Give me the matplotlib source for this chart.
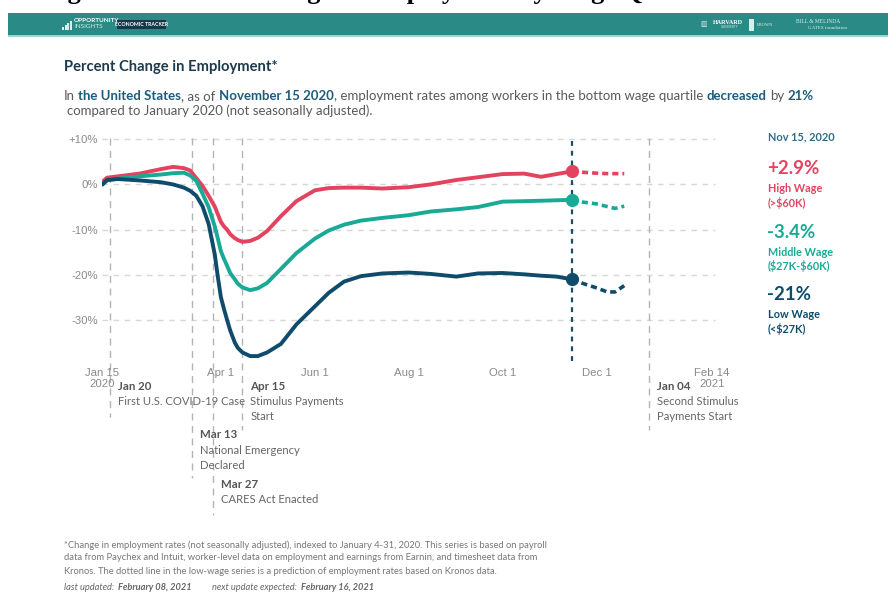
import matplotlib
matplotlib.use("Agg")
import matplotlib.pyplot as plt
import matplotlib.dates as mdates
from matplotlib.transforms import blended_transform_factory
from matplotlib.patches import Rectangle
import datetime as dt

# ---------------- data ----------------
dates = ["2020-01-15", "2020-01-18", "2020-01-25", "2020-02-08", "2020-02-22",
         "2020-03-01", "2020-03-08", "2020-03-12", "2020-03-16", "2020-03-20",
         "2020-03-24", "2020-03-28", "2020-03-30", "2020-04-01", "2020-04-03",
         "2020-04-05", "2020-04-07", "2020-04-10", "2020-04-12", "2020-04-15",
         "2020-04-20", "2020-04-25", "2020-05-01", "2020-05-10", "2020-05-20",
         "2020-06-01", "2020-06-10", "2020-06-20", "2020-07-01", "2020-07-15",
         "2020-08-01", "2020-08-15", "2020-09-01", "2020-09-15", "2020-10-01",
         "2020-10-15", "2020-10-26", "2020-11-05", "2020-11-15"]
high_wage = [0.6, 1.5, 1.8, 2.4, 3.4,
             3.9, 3.6, 3.1, 1.4, -0.3,
             -2.5, -4.9, -6.6, -8.3, -9.3,
             -10.0, -11.0, -11.9, -12.3, -12.7,
             -12.5, -11.8, -10.3, -7.0, -3.7,
             -1.3, -0.8, -0.7, -0.7, -0.9,
             -0.6, 0.0, 1.0, 1.6, 2.3,
             2.4, 1.7, 2.3, 2.9]
middle_wage = [0.0, 0.9, 1.3, 1.8, 2.2,
               2.5, 2.6, 2.0, 0.8, -2.0,
               -5.0, -9.3, -12.0, -14.8, -16.5,
               -18.0, -19.6, -21.0, -22.0, -22.8,
               -23.4, -23.0, -21.8, -18.7, -15.2,
               -12.0, -10.2, -8.9, -8.0, -7.4,
               -6.8, -6.0, -5.5, -5.0, -3.8,
               -3.7, -3.6, -3.5, -3.4]
low_wage = [0.0, 1.0, 1.2, 0.9, 0.5,
            0.0, -0.7, -1.4, -2.5, -4.8,
            -8.7, -15.5, -20.5, -25.0, -27.6,
            -30.0, -32.3, -35.0, -36.2, -37.2,
            -38.0, -38.0, -37.2, -35.3, -31.0,
            -27.0, -24.0, -21.5, -20.3, -19.7,
            -19.5, -19.8, -20.4, -19.7, -19.6,
            -19.9, -20.2, -20.4, -21.0]

# Kronos-based prediction after the latest reading
pred_dates = ["2020-11-15", "2020-11-22", "2020-12-01", "2020-12-08", "2020-12-13", "2020-12-19"]
high_pred = [2.9, 2.7, 2.5, 2.4, 2.4, 2.4]
middle_pred = [-3.4, -3.9, -4.3, -4.9, -5.3, -4.8]
low_pred = [-21.0, -21.9, -22.9, -23.8, -23.8, -22.4]

latest_date = "2020-11-15"
latest_label = "Nov 15, 2020"
series_names = ["High Wage", "Middle Wage", "Low Wage"]
series_ranges = [r"(>\$60K)", r"(\$27K-\$60K)", r"(<\$27K)"]
series_changes = ["+2.9%", "-3.4%", "-21%"]

event_dates = ["2020-01-20", "2020-03-13", "2020-03-27", "2020-04-15", "2021-01-04"]
event_titles = ["Jan 20", "Mar 13", "Mar 27", "Apr 15", "Jan 04"]
event_texts = ["First U.S. COVID-19 Case", "National Emergency\nDeclared",
               "CARES Act Enacted", "Stimulus Payments\nStart",
               "Second Stimulus\nPayments Start"]

tick_dates = ["2020-01-15", "2020-04-01", "2020-06-01", "2020-08-01",
              "2020-10-01", "2020-12-01", "2021-02-14"]
tick_labels = ["Jan 15\n2020", "Apr 1", "Jun 1", "Aug 1", "Oct 1", "Dec 1", "Feb 14\n2021"]
y_ticks = [10, 0, -10, -20, -30]
y_tick_labels = ["+10%", "0%", "-10%", "-20%", "-30%"]

# ---------------- style ----------------
RED = "#e3435f"
TEAL = "#1aa995"
NAVY = "#0f4c6c"
BLUE_TXT = "#1d5c7c"
GRAY_TXT = "#5a5a5a"
SANS = ["Lato", "DejaVu Sans"]
AXFONT = ["Liberation Sans", "DejaVu Sans"]

W, H = 896, 593
fig = plt.figure(figsize=(W / 100, H / 100), dpi=100)
fig.patch.set_facecolor("white")


def px(x, y):
    return x / W, 1 - y / H


def ftext(x, y, s, **kw):
    fx, fy = px(x, y)
    return fig.text(fx, fy, s, **kw)


def d(s):
    return mdates.date2num(dt.datetime.strptime(s, "%Y-%m-%d"))


# ---------------- header ----------------
# page title sitting above the top edge, only its descenders show
ftext(44, -0.5, "Figure 3: Percent Change in Employment by Wage Quartile",
      fontsize=19, fontweight="bold", family=["Liberation Serif"],
      color="black", va="baseline", ha="left")

fig.patches.append(Rectangle(px(8, 35), 880 / W, 22 / H, transform=fig.transFigure,
                             facecolor="#2a8a85", edgecolor="none", zorder=0))
fig.patches.append(Rectangle(px(8, 36.5), 880 / W, 1.5 / H, transform=fig.transFigure,
                             facecolor="#9fd3cc", edgecolor="none", zorder=0))
# small bar-chart glyph of the logo
for i, hgt in enumerate([3, 5, 7, 9]):
    fig.patches.append(Rectangle(px(62 + i * 2.6, 30), 2.0 / W, hgt / H,
                                 transform=fig.transFigure, facecolor="#d9efec",
                                 edgecolor="none"))
ftext(74, 20.5, "OPPORTUNITY", fontsize=4.6, fontweight="bold", color="white",
      family=SANS, va="center")
ftext(74, 27, "INSIGHTS", fontsize=4.6, color="#d9efec", family=SANS, va="center")
fig.patches.append(Rectangle(px(117, 29), 49 / W, 9 / H, transform=fig.transFigure,
                             facecolor="#17384a", edgecolor="none"))
ftext(141.5, 24.5, "ECONOMIC TRACKER", fontsize=3.8, fontweight="bold",
      color="white", family=SANS, ha="center", va="center")
ftext(700, 24.5, "▥", fontsize=5, color="#d9efec", family=["DejaVu Sans"], va="center")
ftext(713, 22.5, "HARVARD", fontsize=4.4, fontweight="bold", color="white",
      family=["Liberation Serif"], va="center")
ftext(721, 27.5, "UNIVERSITY", fontsize=2.2, color="#d9efec",
      family=["Liberation Sans"], va="center")
fig.patches.append(Rectangle(px(749, 31), 5 / W, 12 / H, transform=fig.transFigure,
                             facecolor="#d9efec", edgecolor="none"))
ftext(757, 24.5, "BROWN", fontsize=3.2, color="#d9efec",
      family=["Liberation Serif"], va="center")
ftext(796, 21.5, "BILL & MELINDA", fontsize=4.0, color="#d9efec",
      family=["Liberation Serif"], va="center")
ftext(808, 28, "GATES foundation", fontsize=3.6, color="#d9efec",
      family=["Liberation Serif"], va="center")

ftext(64, 67, "Percent Change in Employment*", fontsize=10.6, fontweight="bold",
      color="#1b3a4e", family=SANS, va="center")

renderer = fig.canvas.get_renderer()


def text_width(s, **kw):
    t = fig.text(0, 0, s, **kw)
    w = t.get_window_extent(renderer).width
    t.remove()
    return w


def runs_text(x, y, runs, size):
    sp = text_width("x x", fontsize=size, family=SANS) - text_width("xx", fontsize=size, family=SANS)
    for s, bold in runs:
        lead = len(s) - len(s.lstrip(" "))
        trail = len(s) - len(s.rstrip(" "))
        core = s.strip(" ")
        x += lead * sp
        kw = dict(fontsize=size, family=SANS,
                  fontweight="bold" if bold else "normal",
                  color=BLUE_TXT if bold else GRAY_TXT)
        ftext(x, y, core, va="center", ha="left", **kw)
        x += text_width(core, **kw) + trail * sp


runs_text(64, 96, [("In ", False), ("the United States", True), (", as of ", False),
                   ("November 15 2020", True),
                   (", employment rates among workers in the bottom wage quartile ", False),
                   ("decreased", True), (" by ", False), ("21%", True)], 9.55)
ftext(67, 111, "compared to January 2020 (not seasonally adjusted).", fontsize=9.55,
      family=SANS, color=GRAY_TXT, va="center")

# ---------------- chart ----------------
ylo, yhi = -39.0, 10.2
x_left, x_right = 102.4, 712.0
y_top, y_bot = 138.4, 360.6
ax = fig.add_axes([x_left / W, 1 - y_bot / H, (x_right - x_left) / W, (y_bot - y_top) / H])
ax.set_facecolor("none")
ax.set_xlim(d("2020-01-15"), d("2021-02-14"))
ax.set_ylim(ylo, yhi)
for sp_ in ax.spines.values():
    sp_.set_visible(False)

ax.set_yticks(y_ticks)
ax.set_yticklabels(y_tick_labels)
ax.set_xticks([d(s) for s in tick_dates])
ax.set_xticklabels(tick_labels)
ax.tick_params(axis="both", length=0, labelsize=8.2, labelcolor="#8a8a8a")
ax.tick_params(axis="y", pad=3)
ax.tick_params(axis="x", pad=5.5)
for lab in ax.get_xticklabels() + ax.get_yticklabels():
    lab.set_family(AXFONT)
    lab.set_linespacing(1.15)

for yv in y_ticks:
    ax.plot([d("2020-01-15"), d("2021-02-16")], [yv, yv], color="#d6d6d6", lw=1.0,
            ls=(0, (4, 4)), zorder=1, clip_on=False)

# event markers reaching below the plot area
bt = blended_transform_factory(ax.transData, fig.transFigure)
event_bottoms = [417, 478, 515, 430, 430]
event_text_y = [386, 435, 484, 386, 386]
for ds, bottom, title, body, ty in zip(event_dates, event_bottoms, event_titles,
                                       event_texts, event_text_y):
    xd = d(ds)
    ax.plot([xd, xd], [1 - y_top / H, 1 - bottom / H], transform=bt, color="#b3b3b3",
            lw=1.0, ls=(0, (5, 4)), clip_on=False, zorder=1)
    xp = ax.transData.transform((xd, 0))[0]
    tx = xp + 8
    ftext(tx, ty, title, fontsize=8.3, fontweight="bold", color="#555555",
          family=SANS, va="center")
    for k, line in enumerate(body.split("\n")):
        ftext(tx, ty + 15.3 * (k + 1), line, fontsize=8.1, color="#666666",
              family=SANS, va="center")

# latest reading marker line
ax.axvline(d(latest_date), color="#1c4e6b", lw=1.6, ls=(0, (2.2, 2.2)), zorder=2)

xs = [d(s) for s in dates]
xp_ = [d(s) for s in pred_dates]
for vals, pred, col in [(high_wage, high_pred, RED), (middle_wage, middle_pred, TEAL),
                        (low_wage, low_pred, NAVY)]:
    ax.plot(xs, vals, color=col, lw=2.8, solid_capstyle="round",
            solid_joinstyle="round", zorder=3)
    ax.plot(xp_, pred, color=col, lw=2.6, ls=(0, (1.7, 1.1)),
            dash_capstyle="butt", zorder=3)
    ax.plot([d(latest_date)], [vals[-1]], "o", color=col, ms=8.5, zorder=4)

# ---------------- right-hand summary ----------------
ftext(768, 137, latest_label, fontsize=7.9, fontweight="bold", color="#2f6a88",
      family=SANS, va="center")
blocks_y = [170, 233, 296]
for col, name, rng, chg, by in zip([RED, TEAL, NAVY], series_names, series_ranges,
                                   series_changes, blocks_y):
    ftext(767, by - 1, chg, fontsize=13.4, fontweight="bold", color=col,
          family=SANS, va="center")
    ftext(768, by + 19, name, fontsize=7.8, fontweight="bold", color=col,
          family=SANS, va="center")
    ftext(768, by + 33, rng, fontsize=7.8, fontweight="bold", color=col,
          family=SANS, va="center")

# ---------------- footnote ----------------
foot = ["*Change in employment rates (not seasonally adjusted), indexed to January 4-31, 2020. This series is based on payroll",
        "data from Paychex and Intuit, worker-level data on employment and earnings from Earnin, and timesheet data from",
        "Kronos. The dotted line in the low-wage series is a prediction of employment rates based on Kronos data."]
for i, line in enumerate(foot):
    ftext(64, 545 + 13 * i, line, fontsize=6.75, color="#777777", family=SANS, va="center")
x0 = 64
for s, kw in [("last updated: ", dict(style="italic")),
              ("February 08, 2021", dict(style="italic", fontweight="bold")),
              ("next update expected: ", dict(style="italic")),
              ("February 16, 2021", dict(style="italic", fontweight="bold"))]:
    t = ftext(x0, 587, s, fontsize=6.7, color="#666666", family=SANS, va="center", **kw)
    x0 += t.get_window_extent(renderer).width + (2 if s.endswith(" ") else 20)

fig.savefig("out.png", dpi=100, facecolor="white")
